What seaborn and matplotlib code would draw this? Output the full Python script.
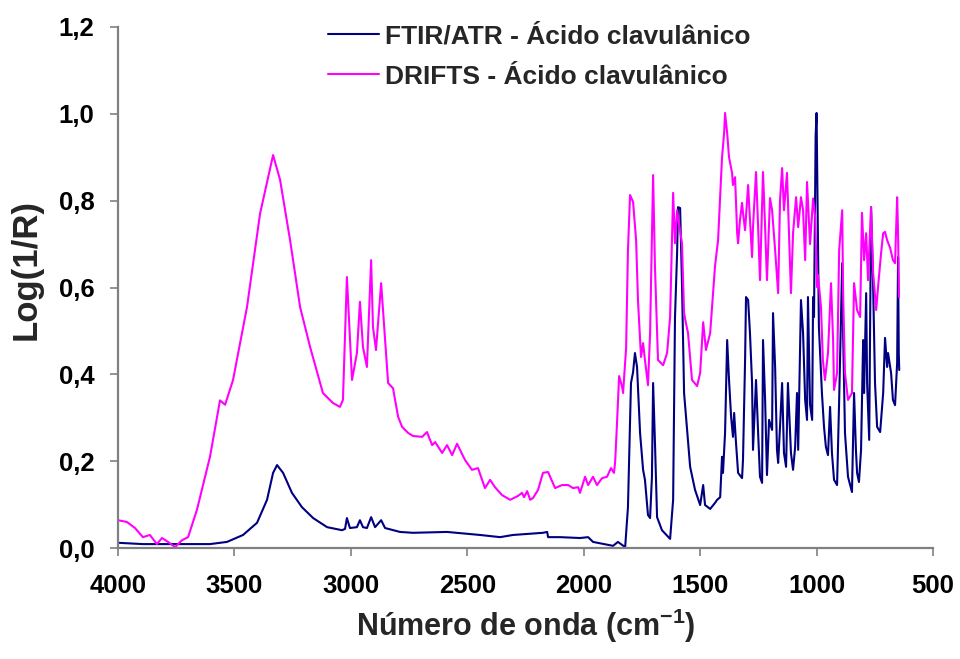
import matplotlib
matplotlib.use("Agg")
import matplotlib.pyplot as plt
import seaborn as sns
import pandas as pd

# ---------------- data ----------------
drifts_wn = [4000, 3962, 3927, 3893, 3863, 3833, 3811, 3785, 3755, 3725, 3699, 3661, 3605, 3562,
             3540, 3506, 3446, 3390, 3334, 3304, 3261, 3218, 3175, 3120, 3077, 3047, 3034, 3017,
             2995, 2974, 2961, 2948, 2931, 2913, 2905, 2892, 2870, 2853, 2840, 2819, 2797, 2780,
             2754, 2733, 2694, 2673, 2651, 2638, 2608, 2587, 2565, 2544, 2510, 2480, 2454, 2424,
             2402, 2381, 2351, 2316, 2282, 2265, 2256, 2243, 2230, 2218, 2196, 2175, 2153, 2123,
             2093, 2067, 2046, 2024, 2016, 1994, 1981, 1960, 1943, 1921, 1900, 1883, 1870, 1865,
             1857, 1848, 1835, 1831, 1818, 1810, 1801, 1788, 1775, 1767, 1754, 1745, 1737, 1724,
             1715, 1702, 1694, 1681, 1659, 1642, 1629, 1621, 1616, 1608, 1599, 1591, 1578, 1569,
             1561, 1552, 1535, 1513, 1500, 1487, 1475, 1457, 1436, 1423, 1406, 1397, 1393, 1384,
             1376, 1363, 1359, 1350, 1341, 1337, 1329, 1320, 1316, 1307, 1294, 1290, 1277, 1273,
             1260, 1251, 1243, 1230, 1221, 1213, 1200, 1191, 1178, 1165, 1157, 1148, 1140, 1127,
             1110, 1101, 1088, 1079, 1067, 1058, 1049, 1041, 1028, 1015, 1006, 998, 994, 981,
             973, 964, 951, 938, 929, 925, 912, 903, 890, 886, 878, 865, 848, 839,
             826, 813, 805, 796, 787, 779, 766, 757, 744, 736, 723, 714, 706, 697,
             684, 672, 663, 654, 650, 646]
drifts_val = [0.064, 0.060, 0.046, 0.025, 0.030, 0.009, 0.023, 0.014, 0.002, 0.018, 0.025, 0.088, 0.21, 0.34,
              0.33, 0.387, 0.555, 0.77, 0.905, 0.848, 0.709, 0.555, 0.463, 0.357, 0.334, 0.325, 0.341, 0.624,
              0.387, 0.449, 0.567, 0.463, 0.417, 0.663, 0.509, 0.456, 0.610, 0.479, 0.380, 0.368, 0.302, 0.279,
              0.265, 0.258, 0.256, 0.267, 0.237, 0.244, 0.219, 0.237, 0.214, 0.240, 0.203, 0.180, 0.184, 0.138,
              0.157, 0.140, 0.122, 0.111, 0.120, 0.127, 0.117, 0.131, 0.111, 0.115, 0.134, 0.173, 0.175, 0.138,
              0.145, 0.145, 0.138, 0.140, 0.127, 0.164, 0.145, 0.164, 0.145, 0.161, 0.164, 0.184, 0.173, 0.198,
              0.288, 0.396, 0.371, 0.357, 0.46, 0.686, 0.813, 0.797, 0.709, 0.571, 0.440, 0.472, 0.433, 0.375,
              0.495, 0.859, 0.647, 0.433, 0.421, 0.449, 0.532, 0.709, 0.818, 0.702, 0.778, 0.748, 0.702, 0.541,
              0.518, 0.495, 0.387, 0.373, 0.403, 0.520, 0.456, 0.495, 0.65, 0.709, 0.900, 0.956, 1.002, 0.956,
              0.900, 0.864, 0.836, 0.854, 0.725, 0.702, 0.755, 0.795, 0.772, 0.732, 0.836, 0.795, 0.670, 0.739,
              0.866, 0.739, 0.617, 0.866, 0.739, 0.617, 0.806, 0.778, 0.686, 0.587, 0.801, 0.875, 0.778, 0.864,
              0.587, 0.725, 0.808, 0.739, 0.808, 0.778, 0.663, 0.843, 0.700, 0.805, 0.762, 0.601, 0.629, 0.555,
              0.433, 0.387, 0.449, 0.610, 0.479, 0.364, 0.403, 0.686, 0.778, 0.587, 0.403, 0.341, 0.357, 0.610,
              0.548, 0.532, 0.772, 0.663, 0.725, 0.617, 0.785, 0.633, 0.548, 0.601, 0.679, 0.725, 0.728, 0.709,
              0.691, 0.663, 0.656, 0.808, 0.725, 0.578]

ftir_wn = [4000, 3893, 3747, 3605, 3532, 3463, 3403, 3360, 3334, 3317, 3291, 3253, 3210, 3162,
           3102, 3038, 3025, 3017, 3004, 2974, 2961, 2948, 2931, 2913, 2896, 2870, 2853, 2789,
           2733, 2587, 2445, 2359, 2304, 2175, 2157, 2153, 2102, 2016, 1981, 1960, 1874, 1853,
           1840, 1822, 1810, 1797, 1792, 1788, 1780, 1771, 1758, 1745, 1737, 1724, 1715, 1707,
           1702, 1694, 1685, 1664, 1629, 1616, 1608, 1599, 1595, 1586, 1578, 1569, 1556, 1543,
           1522, 1500, 1487, 1479, 1457, 1436, 1427, 1414, 1406, 1402, 1393, 1384, 1376, 1367,
           1359, 1354, 1346, 1337, 1320, 1316, 1307, 1303, 1294, 1286, 1277, 1273, 1260, 1251,
           1243, 1234, 1230, 1221, 1213, 1204, 1191, 1187, 1178, 1170, 1165, 1157, 1148, 1140,
           1131, 1123, 1110, 1101, 1092, 1084, 1079, 1067, 1058, 1049, 1041, 1037, 1028, 1019,
           1015, 1011, 1004, 1000, 996, 990, 977, 968, 960, 951, 942, 934, 925, 912,
           903, 890, 886, 878, 865, 848, 839, 831, 826, 818, 809, 800, 796, 787,
           783, 774, 766, 757, 749, 740, 727, 714, 706, 697, 693, 680, 672, 663,
           654, 650, 647, 645]
ftir_val = [0.012, 0.009, 0.009, 0.009, 0.014, 0.030, 0.058, 0.111, 0.173, 0.191, 0.173, 0.127, 0.094, 0.069,
            0.048, 0.041, 0.044, 0.069, 0.046, 0.048, 0.064, 0.048, 0.046, 0.071, 0.048, 0.064, 0.046, 0.037,
            0.035, 0.037, 0.030, 0.025, 0.030, 0.035, 0.037, 0.025, 0.025, 0.023, 0.025, 0.014, 0.005, 0.014,
            0.009, 0.002, 0.094, 0.380, 0.394, 0.405, 0.449, 0.417, 0.265, 0.180, 0.157, 0.076, 0.069, 0.164,
            0.380, 0.242, 0.071, 0.041, 0.021, 0.111, 0.532, 0.679, 0.785, 0.783, 0.610, 0.357, 0.272, 0.187,
            0.134, 0.099, 0.145, 0.099, 0.090, 0.104, 0.111, 0.117, 0.210, 0.173, 0.265, 0.479, 0.387, 0.302,
            0.256, 0.311, 0.242, 0.173, 0.161, 0.203, 0.433, 0.578, 0.571, 0.495, 0.380, 0.226, 0.387, 0.265,
            0.164, 0.150, 0.479, 0.341, 0.168, 0.295, 0.272, 0.541, 0.417, 0.226, 0.196, 0.279, 0.380, 0.219,
            0.187, 0.380, 0.219, 0.180, 0.233, 0.357, 0.226, 0.571, 0.495, 0.341, 0.295, 0.578, 0.330, 0.295,
            0.578, 0.532, 0.95, 1.002, 0.801, 0.509, 0.357, 0.279, 0.233, 0.214, 0.325, 0.219, 0.157, 0.145,
            0.341, 0.656, 0.495, 0.265, 0.164, 0.129, 0.357, 0.226, 0.173, 0.152, 0.226, 0.479, 0.357, 0.587,
            0.380, 0.249, 0.785, 0.601, 0.380, 0.279, 0.267, 0.357, 0.484, 0.417, 0.449, 0.403, 0.341, 0.329,
            0.426, 0.670, 0.449, 0.410]

series_names = ["FTIR/ATR - Ácido clavulânico", "DRIFTS - Ácido clavulânico"]
series_colors = ["#000080", "#FF00FF"]

x_ticks = [4000, 3500, 3000, 2500, 2000, 1500, 1000, 500]
y_ticks = [0.0, 0.2, 0.4, 0.6, 0.8, 1.0, 1.2]
y_tick_labels = ["0,0", "0,2", "0,4", "0,6", "0,8", "1,0", "1,2"]

# ---------------- build a long table ----------------
df = pd.concat([
    pd.DataFrame({"wn": ftir_wn, "val": ftir_val, "serie": series_names[0]}),
    pd.DataFrame({"wn": drifts_wn, "val": drifts_val, "serie": series_names[1]}),
], ignore_index=True)

sns.set_theme(style="white")
plt.rcParams["font.family"] = ["Liberation Sans", "DejaVu Sans"]
plt.rcParams["font.weight"] = "bold"
plt.rcParams["mathtext.fontset"] = "custom"
plt.rcParams["mathtext.rm"] = "Liberation Sans:bold"
plt.rcParams["mathtext.bf"] = "Liberation Sans:bold"
plt.rcParams["mathtext.default"] = "bf"

fig = plt.figure(figsize=(9.6, 6.59), dpi=100)
ax = fig.add_axes([118 / 960, 111 / 659, 815 / 960, 521 / 659])

sns.lineplot(data=df, x="wn", y="val", hue="serie", hue_order=series_names,
             palette=series_colors, estimator=None, sort=False, linewidth=1.5, ax=ax)

ax.set_xlim(4000, 500)
ax.set_ylim(0, 1.2)
ax.set_xticks(x_ticks)
ax.set_xticklabels([str(t) for t in x_ticks])
ax.set_yticks(y_ticks)
ax.set_yticklabels(y_tick_labels)

for s in ["top", "right"]:
    ax.spines[s].set_visible(False)
for s in ["left", "bottom"]:
    ax.spines[s].set_color("#808080")
    ax.spines[s].set_linewidth(1.6)

ax.tick_params(axis="both", which="major", direction="out", length=6, width=1.2,
               color="#808080", labelsize=18.5, labelcolor="black")
ax.tick_params(axis="x", bottom=True, pad=13)
ax.tick_params(axis="y", left=True, pad=11)
for lab in ax.get_xticklabels() + ax.get_yticklabels():
    lab.set_fontweight("bold")

ax.set_xlabel("Número de onda (cm$^{-1}$)", fontsize=22, fontweight="bold", labelpad=6)
ax.set_ylabel("Log(1/R)", fontsize=25, fontweight="bold")
ax.yaxis.set_label_coords(-0.093, 0.535)

leg = ax.legend(loc="upper left", bbox_to_anchor=(0.229, 1.05), frameon=False,
                prop={"size": 19, "weight": "bold"}, handlelength=1.9,
                handletextpad=0.25, labelspacing=0.6)
for line in leg.get_lines():
    line.set_linewidth(1.5)

fig.savefig("out.png", dpi=100, facecolor="white")
